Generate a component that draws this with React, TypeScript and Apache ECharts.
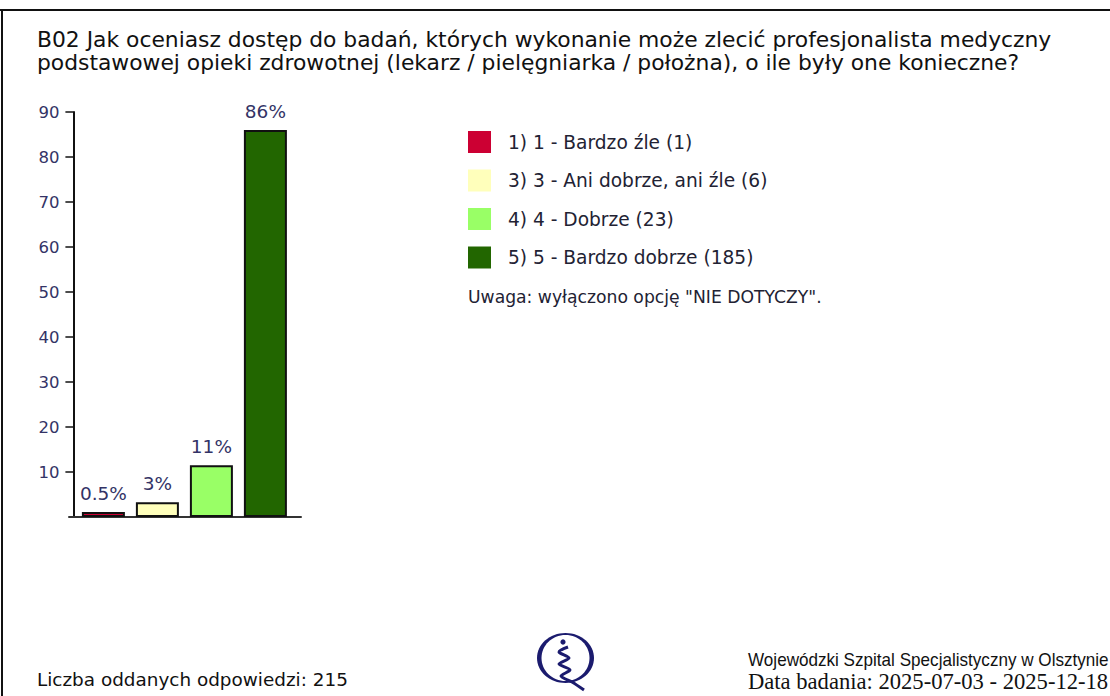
import React, { useEffect, useRef } from "react";
import * as echarts from "echarts";

const titleLines = [
  "B02 Jak oceniasz dostęp do badań, których wykonanie może zlecić profesjonalista medyczny",
  "podstawowej opieki zdrowotnej (lekarz / pielęgniarka / położna), o ile były one konieczne?",
];
const categories = [
  "1) 1 - Bardzo źle (1)",
  "3) 3 - Ani dobrze, ani źle (6)",
  "4) 4 - Dobrze (23)",
  "5) 5 - Bardzo dobrze (185)",
];
const barValues = [1.1, 3.3, 11.5, 86];
const percentLabels = ["0.5%", "3%", "11%", "86%"];
const barColors = ["#CC0033", "#FFFFBB", "#99FF66", "#226600"];
const yMin = 0;
const yMax = 90;
const yInterval = 10;
const noteText = 'Uwaga: wyłączono opcję "NIE DOTYCZY".';
const answersText = "Liczba oddanych odpowiedzi: 215";
const hospitalText = "Wojewódzki Szpital Specjalistyczny w Olsztynie";
const dateText = "Data badania: 2025-07-03 - 2025-12-18";

const NAVY = "#1b1b6e";

function txt(text: string, x: number, y: number, size: number, family: string, fill: string, extra: any = {}) {
  return {
    type: "text",
    x,
    y,
    ...extra,
    style: {
      text,
      fontSize: size,
      fontFamily: family,
      fill,
      align: "left",
      textAlign: "left",
      verticalAlign: "middle",
      textVerticalAlign: "middle",
    },
  };
}

export default function App() {
  const ref = useRef<HTMLDivElement>(null);
  useEffect(() => {
    document.body.style.margin = "0";
    const chart = echarts.init(ref.current!, null, { renderer: "svg" });
    const series = categories.map((name, i) => ({
      name,
      type: "bar",
      stack: "all",
      xAxisIndex: 0,
      yAxisIndex: 0,
      barWidth: 43,
      data: barValues.map((v, j) => (j === i ? v : "-")),
      itemStyle: { color: barColors[i], borderColor: "#111", borderWidth: 2 },
      label: {
        show: true,
        position: "top",
        distance: 9,
        formatter: () => percentLabels[i],
        fontFamily: "DejaVu Sans",
        fontSize: 18.5,
        color: "#333366",
      },
    }));
    chart.setOption({
      animation: false,
      backgroundColor: "#fff",
      legend: {
        orient: "vertical",
        left: 468,
        top: 131,
        padding: 0,
        itemWidth: 23,
        itemHeight: 22,
        itemGap: 16.5,
        icon: "rect",
        selectedMode: false,
        itemStyle: { borderWidth: 0 },
        textStyle: {
          fontFamily: "DejaVu Sans",
          fontSize: 18.6,
          color: "#222233",
          padding: [0, 0, 0, 12],
        },
        data: categories,
      },
      grid: [
        { left: 76.4, width: 216, top: 112, bottom: 179 },
        { left: 69, width: 232, top: 112, bottom: 179 },
      ],
      xAxis: [
        {
          type: "category",
          gridIndex: 0,
          data: categories,
          axisLine: { show: false },
          axisTick: { show: false },
          axisLabel: { show: false },
        },
        {
          type: "value",
          gridIndex: 1,
          min: 0,
          max: 1,
          axisLine: { show: true, lineStyle: { color: "#333", width: 2 } },
          axisTick: { show: false },
          axisLabel: { show: false },
          splitLine: { show: false },
        },
      ],
      yAxis: [
        {
          type: "value",
          gridIndex: 0,
          min: yMin,
          max: yMax,
          interval: yInterval,
          offset: 3,
          axisLine: { show: true, lineStyle: { color: "#111", width: 2 } },
          axisTick: { show: true, length: 8, lineStyle: { color: "#111", width: 1.5 } },
          axisLabel: {
            margin: 14,
            showMinLabel: false,
            fontFamily: "DejaVu Sans",
            fontSize: 16.5,
            color: "#333366",
          },
          splitLine: { show: false },
        },
        { type: "value", gridIndex: 1, show: false, min: 0, max: 1 },
      ],
      series,
      graphic: [
        { type: "line", shape: { x1: 0, y1: 10, x2: 1110, y2: 10 }, style: { stroke: "#111", lineWidth: 2 } },
        { type: "line", shape: { x1: 2, y1: 9, x2: 2, y2: 696 }, style: { stroke: "#111", lineWidth: 2 } },
        txt(titleLines[0], 37, 40, 21, "DejaVu Sans", "#111", { scaleX: 1.04 }),
        txt(titleLines[1], 37, 63, 21, "DejaVu Sans", "#111", { scaleX: 1.04 }),
        txt(noteText, 468, 297, 17.2, "DejaVu Sans", "#222233"),
        txt(answersText, 37, 679, 18.4, "DejaVu Sans", "#111"),
        txt(hospitalText, 748, 660, 18, "Liberation Sans", "#111", { scaleX: 0.95 }),
        txt(dateText, 748, 681, 22.6, "Liberation Serif", "#111"),
        { type: "ellipse", shape: { cx: 565.5, cy: 658, rx: 28.5, ry: 25 }, style: { fill: NAVY } },
        { type: "ellipse", shape: { cx: 565.5, cy: 658, rx: 24, ry: 23 }, style: { fill: "#fff" } },
        { type: "circle", shape: { cx: 563, cy: 642, r: 2.6 }, style: { fill: NAVY } },
        {
          type: "polyline",
          shape: {
            points: [[568, 647], [559, 652], [569, 658], [559, 664], [570, 670], [561, 676], [572, 682], [584, 690]],
            smooth: 0.3,
          },
          style: { stroke: NAVY, lineWidth: 3, fill: "none" },
        },
      ],
    });
    return () => chart.dispose();
  }, []);
  return <div ref={ref} style={{ position: "fixed", left: 0, top: 0, width: 1110, height: 696 }} />;
}
